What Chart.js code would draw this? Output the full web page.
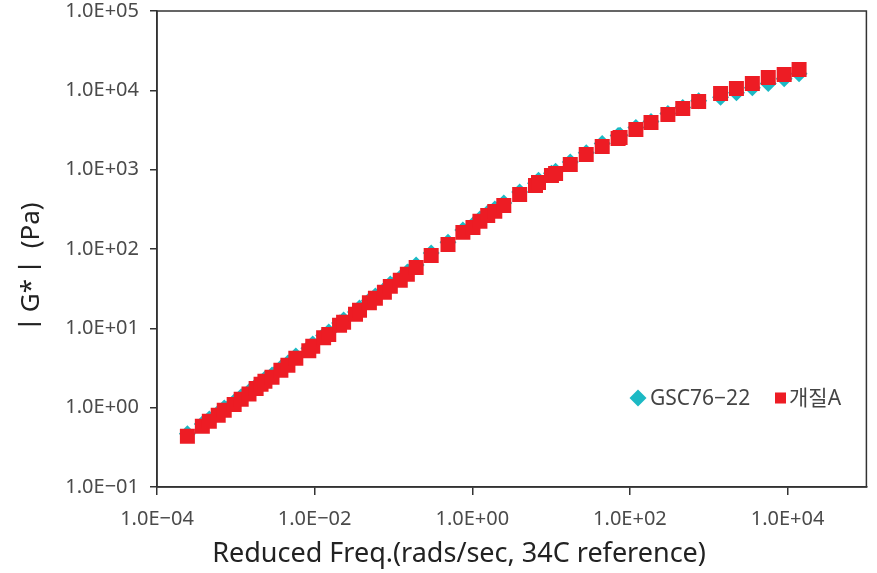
<!DOCTYPE html>
<html>
<head>
<meta charset="utf-8">
<script src="https://cdn.jsdelivr.net/npm/chart.js@4.4.1/dist/chart.umd.min.js"></script>
<style>
  body { margin: 0; background: #fff; }
  #wrap { width: 877px; height: 573px; }
</style>
</head>
<body>
<div id="wrap"><canvas id="gstar-chart"></canvas></div>
<script>
// reduced frequency (rad/s), shared by both samples
const freq = [
  2.43e-4, 3.76e-4, 4.61e-4, 5.98e-4, 7.13e-4, 9.53e-4, 1.17e-3, 1.47e-3, 1.81e-3, 2.09e-3,
  2.34e-3, 2.88e-3, 3.73e-3, 4.58e-3, 5.77e-3, 8.43e-3, 9.46e-3, 1.30e-2, 1.51e-2, 2.07e-2,
  2.33e-2, 3.30e-2, 3.71e-2, 4.95e-2, 5.90e-2, 7.67e-2, 9.12e-2, 0.122, 0.150, 0.194,
  0.301, 0.492, 0.760, 1.02, 1.25, 1.57, 1.93, 2.51, 3.99, 6.34,
  6.92, 10.1, 11.4, 17.5, 27.9, 44.5, 70.8, 75.0, 119, 185,
  303, 468, 745, 1413, 2244, 3573, 5689, 9057, 13996
];

// |G*| (Pa)
const gsc7622 = [
  0.468, 0.624, 0.722, 0.858, 0.992, 1.18, 1.37, 1.59, 1.87, 2.11,
  2.30, 2.59, 3.17, 3.66, 4.48, 5.59, 6.35, 8.15, 8.98, 11.7,
  12.7, 16.1, 18.1, 22.5, 25.6, 30.4, 36.2, 43.1, 51.3, 62.7,
  88.8, 122, 173, 200, 239, 284, 319, 379, 522, 676,
  738, 904, 958, 1245, 1630, 2140, 2700, 2720, 3400, 4050,
  5100, 6080, 7400, 8200, 9300, 10800, 12200, 14000, 16200
];
const modifiedA = [
  0.437, 0.583, 0.675, 0.802, 0.927, 1.10, 1.28, 1.49, 1.75, 1.97,
  2.15, 2.42, 2.96, 3.42, 4.19, 5.22, 5.93, 7.62, 8.39, 10.9,
  11.9, 15.0, 16.9, 21.0, 23.9, 28.4, 33.8, 40.3, 47.9, 58.6,
  83.0, 114, 162, 187, 223, 265, 298, 354, 488, 632,
  690, 845, 895, 1164, 1552, 1959, 2472, 2547, 3206, 3926,
  4955, 5902, 7228, 9120, 10544, 12190, 14488, 15812, 18281
];

const xTickValues = [1e-4, 1e-2, 1, 1e2, 1e4];
const xTickLabels = ['1.0E\u221204', '1.0E\u221202', '1.0E+00', '1.0E+02', '1.0E+04'];
const yTickValues = [1e-1, 1, 10, 100, 1e3, 1e4, 1e5];
const yTickLabels = ['1.0E\u221201', '1.0E+00', '1.0E+01', '1.0E+02', '1.0E+03', '1.0E+04', '1.0E+05'];

const FONT = "'Noto Sans', 'Noto Sans CJK KR', sans-serif";
const AXIS = '#333';

// box round the plot (top and right edges)
const frame = {
  id: 'frame',
  afterDatasetsDraw(chart) {
    const { ctx, chartArea: a } = chart;
    ctx.save();
    ctx.strokeStyle = AXIS;
    ctx.lineWidth = 1.5;
    ctx.strokeRect(a.left, a.top, a.right - a.left, a.bottom - a.top);
    ctx.restore();
  }
};

// legend drawn inside the plot, lower right
const insideLegend = {
  id: 'insideLegend',
  afterDraw(chart) {
    const ctx = chart.ctx;
    const ds = chart.data.datasets;
    const y = 398;
    const items = [
      { marker: 638, text: 650, radius: 8.5 },
      { marker: 780.5, text: 789, radius: 7.8 }
    ];
    ctx.save();
    ctx.font = '21px ' + FONT;
    ctx.textBaseline = 'middle';
    items.forEach((it, i) => {
      ctx.fillStyle = ds[i].backgroundColor;
      Chart.helpers.drawPoint(ctx, { pointStyle: ds[i].pointStyle, radius: it.radius, borderWidth: 0 }, it.marker, y);
      ctx.fillStyle = '#444';
      ctx.fillText(ds[i].label, it.text, y + 1);
    });
    ctx.restore();
  }
};

// keep the plot box where the reference has it
function noEdgePadding(s) {
  s.paddingTop = 0;
  s.paddingBottom = 0;
  s.paddingLeft = 0;
  s.paddingRight = 0;
}

const ctx = document.getElementById('gstar-chart').getContext('2d');
const gstarChart = new Chart(ctx, {
  type: 'scatter',
  data: {
    datasets: [
      {
        label: 'GSC76\u221222',
        data: freq.map((f, i) => ({ x: f, y: gsc7622[i] })),
        pointStyle: 'rectRot',
        pointRadius: 8.5,
        backgroundColor: '#1CB9C4',
        borderWidth: 0,
        order: 1
      },
      {
        label: '개질A',
        data: freq.map((f, i) => ({ x: f, y: modifiedA[i] })),
        pointStyle: 'rect',
        pointRadius: 10.6,
        backgroundColor: '#ED1C24',
        borderWidth: 0,
        order: 0
      }
    ]
  },
  options: {
    responsive: true,
    maintainAspectRatio: false,
    animation: false,
    layout: { padding: { left: 0, right: 6, top: 11, bottom: 0 } },
    plugins: { legend: { display: false }, tooltip: { enabled: false } },
    scales: {
      x: {
        type: 'logarithmic',
        min: 1e-4,
        max: 1e5,
        afterBuildTicks: (s) => { s.ticks = xTickValues.map(v => ({ value: v })); },
        afterFit: (s) => { s.height = 86; noEdgePadding(s); },
        ticks: {
          autoSkip: false,
          maxRotation: 0,
          padding: 14,
          color: '#4a4a4a',
          font: { family: FONT, size: 20, lineHeight: 1 },
          callback: (v, i) => xTickLabels[i]
        },
        grid: { drawOnChartArea: false, drawTicks: true, tickLength: 8, color: AXIS, lineWidth: 1.5 },
        border: { display: true, color: AXIS, width: 1.5 },
        title: {
          display: true,
          text: 'Reduced Freq.(rads/sec, 34C reference)' + '\u00a0'.repeat(15),
          color: '#222',
          font: { family: FONT, size: 27 },
          padding: { top: 0, bottom: 2 }
        }
      },
      y: {
        type: 'logarithmic',
        min: 1e-1,
        max: 1e5,
        afterBuildTicks: (s) => { s.ticks = yTickValues.map(v => ({ value: v })); },
        afterFit: (s) => { s.width = 157; noEdgePadding(s); },
        ticks: {
          autoSkip: false,
          padding: 11,
          color: '#4a4a4a',
          font: { family: FONT, size: 20, lineHeight: 1 },
          callback: (v, i) => yTickLabels[i]
        },
        grid: { drawOnChartArea: false, drawTicks: true, tickLength: 7, color: AXIS, lineWidth: 1.5 },
        border: { display: true, color: AXIS, width: 1.5 },
        title: {
          display: true,
          text: 'ㅣG*ㅣ\u00a0(Pa)' + '\u00a0'.repeat(6),
          color: '#222',
          font: { family: FONT, size: 26 },
          padding: { top: 15.5, bottom: 0 }
        }
      }
    }
  },
  plugins: [frame, insideLegend]
});
</script>
</body>
</html>
